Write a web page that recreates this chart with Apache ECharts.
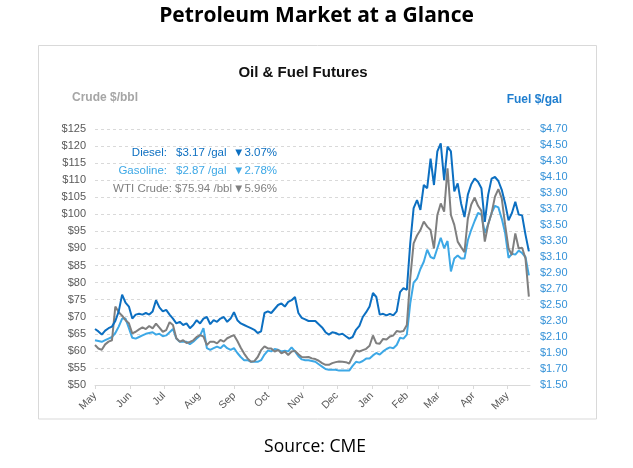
<!DOCTYPE html>
<html><head><meta charset="utf-8">
<script src="https://cdn.jsdelivr.net/npm/echarts@6/dist/echarts.min.js"></script>
<style>html,body{margin:0;padding:0;background:#fff}#c{width:633px;height:468px}</style>
</head><body><div id="c"></div>
<script>
// ---- data ----
const START = [2021, 4, 1];   // first sample: 1 May 2021
const STEP_DAYS = 3;          // one sample every 3 days
const monthLabels = ['Jan','Feb','Mar','Apr','May','Jun','Jul','Aug','Sep','Oct','Nov','Dec'];

const diesel = [2.20,2.17,2.13,2.18,2.21,2.23,2.30,2.42,2.63,2.53, 2.48,2.33,2.38,2.39,2.38,2.40,2.38,2.42,2.56,2.47,
  2.42,2.44,2.38,2.33,2.27,2.29,2.25,2.27,2.21,2.25, 2.31,2.27,2.33,2.35,2.26,2.31,2.29,2.33,2.35,2.29,
  2.33,2.41,2.31,2.27,2.25,2.23,2.21,2.19,2.15,2.17, 2.40,2.42,2.40,2.45,2.50,2.52,2.48,2.54,2.56,2.60,
  2.40,2.34,2.32,2.30,2.30,2.30,2.26,2.22,2.16,2.13, 2.16,2.15,2.13,2.14,2.11,2.08,2.10,2.19,2.24,2.35,
  2.41,2.48,2.65,2.60,2.38,2.39,2.37,2.39,2.37,2.42, 2.66,2.71,2.69,3.27,3.71,3.81,3.69,4.00,3.96,4.33,
  4.00,4.42,4.52,4.06,4.48,4.42,3.92,4.02,3.77,3.60, 3.88,4.01,4.08,4.04,3.96,3.54,3.88,4.08,4.10,4.05,
  3.94,3.77,3.56,3.65,3.79,3.63,3.62,3.38,3.17];

const gasoline = [2.06,2.05,2.04,2.06,2.08,2.10,2.15,2.23,2.33,2.33, 2.21,2.09,2.08,2.10,2.12,2.14,2.15,2.16,2.13,2.14,
  2.11,2.12,2.16,2.20,2.08,2.04,2.04,2.04,2.01,2.04, 2.08,2.12,2.21,1.96,1.94,1.96,1.98,1.96,2.00,1.96,
  1.94,1.96,1.90,1.85,1.81,1.81,1.79,1.79,1.79,1.81, 1.88,1.93,1.92,1.95,1.94,1.92,1.93,1.92,1.97,1.92,
  1.86,1.82,1.81,1.81,1.80,1.79,1.76,1.73,1.70,1.69, 1.69,1.69,1.68,1.68,1.68,1.68,1.74,1.79,1.78,1.80,
  1.83,1.83,1.87,1.90,1.88,1.92,1.95,1.97,1.96,2.00, 2.09,2.08,2.13,2.52,2.78,2.83,2.95,3.04,3.19,3.10,
  3.08,3.21,3.34,3.21,3.30,2.92,3.08,3.12,3.08,3.08, 3.31,3.44,3.55,3.65,3.63,3.40,3.51,3.65,3.74,3.72,
  3.58,3.40,3.09,3.14,3.13,3.18,3.15,3.10,2.87];

const crude = [61.7,60.7,60.3,61.9,62.7,63.1,73.0,71.3,70.3,69.0, 68.1,65.1,65.6,66.3,66.9,66.4,67.3,66.6,68.0,66.8,
  65.6,66.1,68.4,67.6,63.7,62.7,63.1,62.3,62.6,63.1, 64.1,64.6,64.2,61.7,62.7,62.7,62.2,63.2,62.7,63.7,
  64.2,64.6,62.9,60.9,59.2,57.8,56.8,57.0,58.2,60.2, 61.3,60.7,60.7,59.8,60.3,59.3,59.8,58.8,59.8,60.0,
  59.0,58.2,58.1,58.2,57.8,57.6,57.1,56.4,55.9,55.9, 56.4,56.7,56.9,56.8,56.7,56.3,58.3,60.1,59.8,60.2,
  60.6,61.5,64.5,62.2,62.1,63.5,63.3,64.2,64.5,65.8, 65.6,65.8,67.6,81.3,91.5,93.8,95.4,97.9,96.4,95.4,
  90.0,99.8,103.2,100.8,113.5,99.8,96.9,92.0,90.4,88.9, 98.8,102.9,104.9,102.5,101.0,92.0,97.1,100.3,105.2,107.4,
  104.7,96.9,90.0,88.1,94.4,90.0,90.2,87.1,75.9];

const crudeAxis = { min: 50, max: 125, step: 5 };
const fuelAxis = { min: 1.5, max: 4.7, step: 0.2 };
const xRange = { start: [2021, 4, 1], end: [2022, 4, 21] };

const summaryNames = ['Diesel:', 'Gasoline:', 'WTI Crude: $75.94 /bbl'];
const summaryPrices = ['$3.17 /gal', '$2.87 /gal', ''];
const summaryChanges = ['\u25BC3.07%', '\u25BC2.78%', '\u25BC5.96%'];

// ---- colours / fonts ----
const C_DIESEL = '#0C6FC1', C_GAS = '#3DA8E6', C_CRUDE = '#7F7F7F';
const FONT = '"Liberation Sans", Arial, sans-serif';

const dateAt = i => new Date(START[0], START[1], START[2] + i * STEP_DAYS).getTime();
const pairs = arr => arr.map((v, i) => [dateAt(i), v]);

const chart = echarts.init(document.getElementById('c'), null, { renderer: 'canvas' });

const summaryColors = [C_DIESEL, C_GAS, C_CRUDE];
const summaryY = [153, 171, 189];
const graphics = [
  { type: 'rect', shape: { x: 38.5, y: 45.5, width: 558, height: 373.5 }, style: { fill: 'none', stroke: '#d9d9d9', lineWidth: 1 }, silent: true },
  { type: 'text', style: { text: 'Petroleum Market at a Glance', x: 316.5, y: 16, textAlign: 'center', textVerticalAlign: 'middle', font: 'bold 21px "Open Sans", sans-serif', fill: '#000' } },
  { type: 'text', style: { text: 'Oil & Fuel Futures', x: 303, y: 73, textAlign: 'center', textVerticalAlign: 'middle', font: 'bold 15px ' + FONT, fill: '#111' } },
  { type: 'text', style: { text: 'Crude $/bbl', x: 72, y: 98, textAlign: 'left', textVerticalAlign: 'middle', font: 'bold 12px ' + FONT, fill: '#A6A6A6' } },
  { type: 'text', style: { text: 'Fuel $/gal', x: 562, y: 100, textAlign: 'right', textVerticalAlign: 'middle', font: 'bold 12px ' + FONT, fill: '#1F7ECF' } },
  { type: 'text', style: { text: 'Source: CME', x: 315, y: 447, textAlign: 'center', textVerticalAlign: 'middle', font: '17.5px "Open Sans", sans-serif', fill: '#000' } }
];
for (let k = 0; k < 3; k++) {
  const isCrude = summaryPrices[k] === '';
  graphics.push({ type: 'text', style: { text: summaryNames[k], x: isCrude ? 232 : 167, y: summaryY[k], textAlign: 'right', textVerticalAlign: 'middle', font: '11.5px ' + FONT, fill: summaryColors[k] } });
  if (!isCrude) graphics.push({ type: 'text', style: { text: summaryPrices[k], x: 176, y: summaryY[k], textAlign: 'left', textVerticalAlign: 'middle', font: '11.5px ' + FONT, fill: summaryColors[k] } });
  graphics.push({ type: 'text', style: { text: summaryChanges[k], x: 277, y: summaryY[k], textAlign: 'right', textVerticalAlign: 'middle', font: '11.5px ' + FONT, fill: summaryColors[k] } });
}

const DAY = 86400000;
chart.setOption({
  animation: false,
  backgroundColor: '#fff',
  grid: { left: 95, right: 103, top: 129, bottom: 83, containLabel: false },
  xAxis: {
    type: 'time',
    min: new Date(...xRange.start).getTime(),
    max: new Date(...xRange.end).getTime(),
    splitNumber: 12,
    minInterval: 28 * DAY,
    maxInterval: 31 * DAY,
    axisLine: { lineStyle: { color: '#D9D9D9', width: 1 } },
    axisTick: { show: true, length: 4, lineStyle: { color: '#D9D9D9' } },
    splitLine: { show: false },
    axisLabel: {
      rotate: 45, color: '#595959', fontSize: 10.5, fontFamily: FONT, margin: 9,
      hideOverlap: false, showMinLabel: true, showMaxLabel: false,
      formatter: v => monthLabels[new Date(v).getMonth()]
    }
  },
  yAxis: [
    {
      type: 'value', position: 'left', min: crudeAxis.min, max: crudeAxis.max, interval: crudeAxis.step,
      axisLine: { show: false }, axisTick: { show: false },
      splitLine: { show: true, lineStyle: { color: '#D9D9D9', type: [3, 3], width: 1 } },
      axisLabel: { color: '#595959', fontSize: 11, fontFamily: FONT, margin: 9, formatter: v => '$' + v }
    },
    {
      type: 'value', position: 'right', min: fuelAxis.min, max: fuelAxis.max, interval: fuelAxis.step,
      axisLine: { show: false }, axisTick: { show: false }, splitLine: { show: false },
      axisLabel: { color: '#3592D8', fontSize: 11, fontFamily: FONT, margin: 10, formatter: v => '$' + v.toFixed(2) }
    }
  ],
  series: [
    { name: 'Gasoline', type: 'line', yAxisIndex: 1, data: pairs(gasoline), showSymbol: false, lineStyle: { color: C_GAS, width: 2 }, itemStyle: { color: C_GAS } },
    { name: 'WTI Crude', type: 'line', yAxisIndex: 0, data: pairs(crude), showSymbol: false, lineStyle: { color: C_CRUDE, width: 2 }, itemStyle: { color: C_CRUDE } },
    { name: 'Diesel', type: 'line', yAxisIndex: 1, data: pairs(diesel), showSymbol: false, lineStyle: { color: C_DIESEL, width: 2 }, itemStyle: { color: C_DIESEL } }
  ],
  graphic: graphics
});
</script></body></html>
